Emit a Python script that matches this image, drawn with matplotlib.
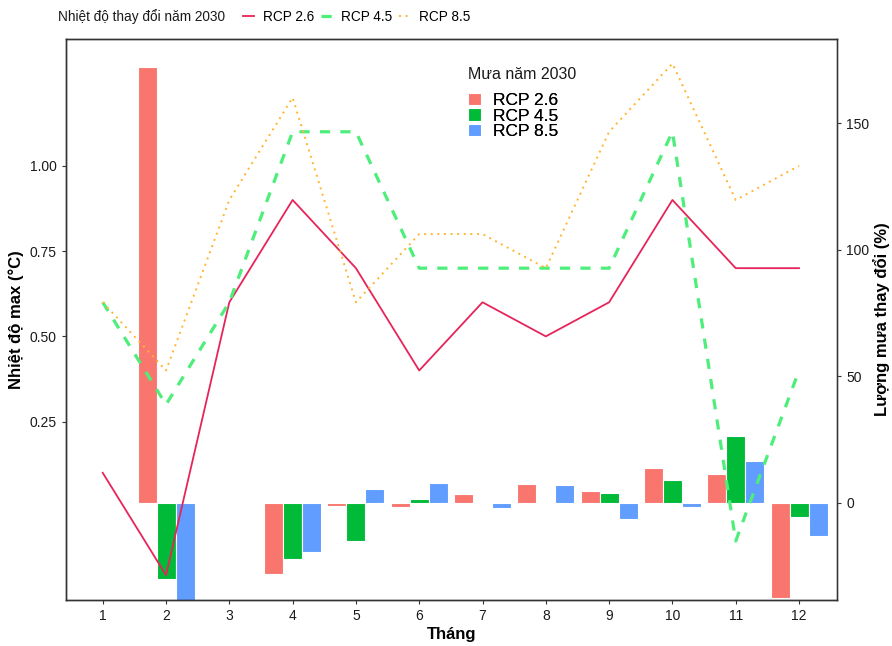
import matplotlib as mpl
import matplotlib.pyplot as plt
import numpy as np

mpl.rcParams['font.family'] = ['Liberation Sans', 'DejaVu Sans']

# du lieu
months = np.arange(1, 13)
temp_rcp26 = [0.1, -0.2, 0.6, 0.9, 0.7, 0.4, 0.6, 0.5, 0.6, 0.9, 0.7, 0.7]
temp_rcp45 = [0.6, 0.3, 0.6, 1.1, 1.1, 0.7, 0.7, 0.7, 0.7, 1.1, -0.1, 0.4]
temp_rcp85 = [0.6, 0.4, 0.9, 1.2, 0.6, 0.8, 0.8, 0.7, 1.1, 1.3, 0.9, 1.0]

rain_rcp26 = [np.nan, 172.5, np.nan, -28.2, -1.5, -1.8, 3.3, 7.3, 4.6, 13.6, 11.5, -37.6]
rain_rcp45 = [np.nan, -30.3, np.nan, -22.4, -15.0, 1.5, 0.0, -0.3, 4.0, 9.0, 26.5, -5.5]
rain_rcp85 = [np.nan, -42.0, np.nan, -19.4, 5.3, 7.7, -2.2, 7.0, -6.6, -1.6, 16.6, -13.1]

scenarios = ['RCP 2.6', 'RCP 4.5', 'RCP 8.5']
bar_colors = ['#F8766D', '#00BA38', '#619CFF']

fig = plt.figure(figsize=(8.92, 6.46), dpi=100)
ax = fig.add_axes([66/892, 46/646, 771/892, 561/646])
ax2 = ax.twinx()

# cot mua tren truc phai
bars = []
for i, (vals, col) in enumerate(zip([rain_rcp26, rain_rcp45, rain_rcp85], bar_colors)):
    b = ax2.bar(months + (i - 1) * 0.3, vals, width=0.3, color=col,
                edgecolor='white', linewidth=0.8, label=scenarios[i])
    bars.append(b)

# duong nhiet do tren truc trai
l1, = ax.plot(months, temp_rcp26, color='#E6245A', lw=1.3, label='RCP 2.6')
l2, = ax.plot(months, temp_rcp45, color='#4DEE7A', lw=2.3, ls=(0, (3.2, 3.2)), label='RCP 4.5')
l3, = ax.plot(months, temp_rcp85, color='#FFB52E', lw=1.4, ls=(0, (1, 2.4)), label='RCP 8.5')

ax.set_zorder(ax2.get_zorder() + 1)
ax.patch.set_visible(False)

ax.set_xlim(0.42, 12.6)
ax.set_ylim(-0.273, 1.372)
ax2.set_ylim(-38.5, 183.4)
ax.set_xticks(months)
ax.set_yticks([0.25, 0.5, 0.75, 1.0])
ax.set_yticklabels(['0.25', '0.50', '0.75', '1.00'])
ax2.set_yticks([0, 50, 100, 150])

for a in (ax, ax2):
    a.tick_params(labelsize=10, colors='#333333', labelcolor='#1a1a1a', length=3, width=0.8)
    for s in a.spines.values():
        s.set_color('#333333')
        s.set_linewidth(1.0)
ax2.spines['right'].set_color('#888888')

ax.set_xlabel('Tháng', fontsize=12, fontweight='bold', labelpad=3)
ax.set_ylabel('Nhiệt độ max (°C)', fontsize=12, fontweight='bold', labelpad=4)
ax2.set_ylabel('Lượng mưa thay đổi (%)', fontsize=12, fontweight='bold', labelpad=3)

# chu thich mua
ax.text(0.5214, 0.9376, 'Mưa năm 2030', transform=ax.transAxes, fontsize=11.5,
        ha='left', va='center', color='#1a1a1a')
leg_rain = ax.legend(handles=bars, labels=scenarios,
                     loc='upper left', bbox_to_anchor=(0.5214, 0.904), frameon=False,
                     fontsize=12.5, handlelength=0.75, handleheight=0.7,
                     handletextpad=0.7, labelspacing=0.02, borderpad=0, borderaxespad=0)
ax.add_artist(leg_rain)

# chu thich nhiet do phia tren
fig.text(58/892, 1 - 17/646, 'Nhiệt độ thay đổi năm 2030', fontsize=9.8,
         va='center', ha='left', color='#1a1a1a')
fig.legend(handles=[l1, l2, l3], labels=scenarios, loc='center left',
           bbox_to_anchor=(243/892, 1 - 17/646), ncol=3, frameon=False,
           fontsize=9.8, handlelength=0.8, handletextpad=0.7, columnspacing=0.45,
           borderpad=0, borderaxespad=0)

plt.savefig('out.png', dpi=100)
